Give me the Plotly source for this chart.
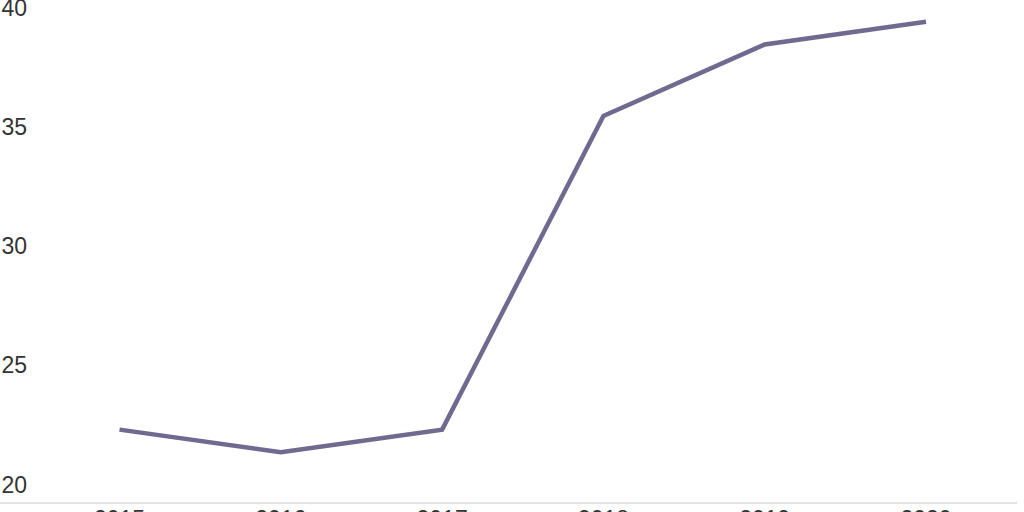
import plotly.graph_objects as go

# values
years = [2015, 2016, 2017, 2018, 2019, 2020]
values = [22.3, 21.35, 22.3, 35.45, 38.45, 39.4]
y_ticks = [20, 25, 30, 35, 40]

fig = go.Figure()
fig.add_trace(go.Scatter(
    x=years, y=values, mode="lines",
    line=dict(color="#6f6a8f", width=4.5),
    hoverinfo="skip", showlegend=False,
))

# the page is shifted up 20px so the top "40" label sits at the very top edge
fig.update_layout(
    width=1024, height=532,
    margin=dict(l=30, r=7, t=0, b=9),
    paper_bgcolor="white", plot_bgcolor="white",
    font=dict(family="Liberation Sans", size=23, color="#333333"),
)
fig.update_xaxes(
    range=[2014.445, 2020.564],
    tickvals=years, ticktext=[str(y) for y in years],
    showgrid=False, zeroline=False, showline=False,
    ticks="", automargin=False,
)
fig.update_yaxes(
    range=[19.224, 41.153],
    tickvals=y_ticks,
    showgrid=False, zeroline=False, showline=False,
    ticks="", automargin=False, ticklabelstandoff=2,
)
# light baseline running under the y labels too
fig.add_shape(type="line", xref="paper", yref="paper",
              x0=-30 / 987, x1=1, y0=0, y1=0,
              line=dict(color="#e3e3e3", width=2))

fig.write_html(
    "out.html",
    config={"displayModeBar": False},
    post_script="document.body.style.margin='-20px 0 0 0';",
)
